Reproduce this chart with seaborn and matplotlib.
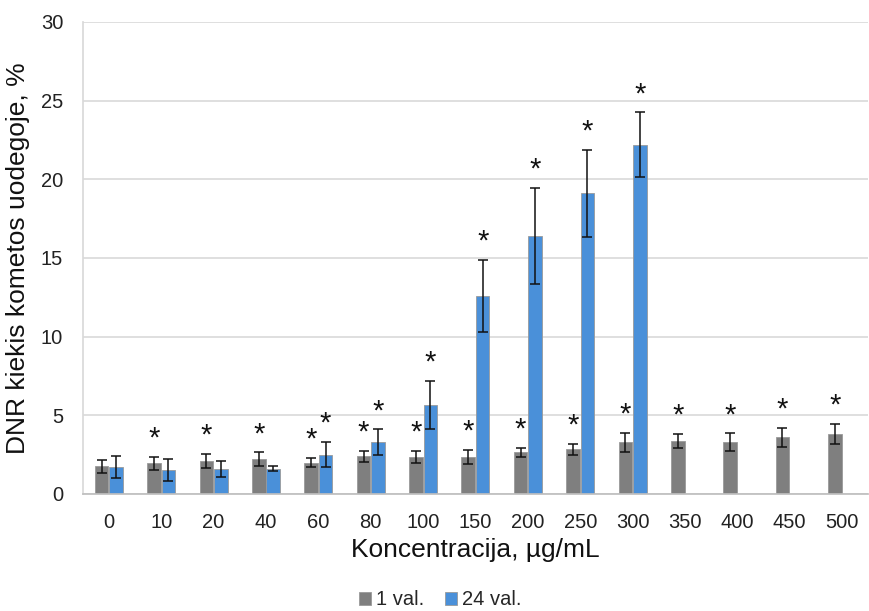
import numpy as np
import pandas as pd
import seaborn as sns
import matplotlib.pyplot as plt

concentrations = ["0", "10", "20", "40", "60", "80", "100", "150", "200", "250",
                  "300", "350", "400", "450", "500"]
series_names = ["1 val.", "24 val."]

mean_1h = [1.75, 1.95, 2.1, 2.2, 2.0, 2.4, 2.35, 2.35, 2.65, 2.85, 3.3, 3.35, 3.3, 3.6, 3.8]
err_1h = [0.4, 0.4, 0.45, 0.45, 0.3, 0.35, 0.4, 0.45, 0.3, 0.35, 0.6, 0.45, 0.55, 0.6, 0.65]
sig_1h = [False, True, True, True, True, True, True, True, True, True, True, True, True, True, True]

mean_24h = [1.7, 1.5, 1.6, 1.6, 2.5, 3.3, 5.65, 12.6, 16.4, 19.1, 22.2]
err_24h = [0.7, 0.7, 0.5, 0.15, 0.8, 0.8, 1.55, 2.3, 3.05, 2.75, 2.05]
sig_24h = [False, False, False, False, True, True, True, True, True, True, True]

rows = []
for i, c in enumerate(concentrations):
    rows.append((c, series_names[0], mean_1h[i], err_1h[i], sig_1h[i]))
for i in range(len(mean_24h)):
    rows.append((concentrations[i], series_names[1], mean_24h[i], err_24h[i], sig_24h[i]))
df = pd.DataFrame(rows, columns=["conc", "series", "value", "err", "sig"])

sns.set_theme(style="white")
plt.rcParams['font.family'] = ['Liberation Sans', 'DejaVu Sans']

fig = plt.figure(figsize=(8.7, 6.11), dpi=100)
ax = fig.add_axes([0.095, 0.1915, 0.903, 0.7725])

palette = {"1 val.": "#7f7f7f", "24 val.": "#4a90d9"}
sns.barplot(data=df, x="conc", y="value", hue="series", order=concentrations,
            hue_order=series_names, palette=palette, errorbar=None,
            width=0.55, gap=0.06, edgecolor="#9a9a9a", linewidth=0.6,
            saturation=1, ax=ax)

# error bars and significance stars on each bar
for cont, name in zip(ax.containers, series_names):
    sub = df[df["series"] == name].set_index("conc")
    for patch in cont.patches:
        h = patch.get_height()
        if np.isnan(h):
            continue
        xc = patch.get_x() + patch.get_width() / 2
        conc = concentrations[int(round(xc))]
        e = sub.loc[conc, "err"]
        ax.errorbar(xc, h, yerr=e, fmt="none", ecolor="#111111",
                    elinewidth=1.1, capsize=3.5, capthick=1.1, zorder=5)
        if sub.loc[conc, "sig"]:
            ax.annotate("*", xy=(xc, h + e), xytext=(0, 3),
                        textcoords="offset points", ha="center", va="bottom",
                        fontsize=21, color="#111111")

ax.set_ylim(0, 30)
ax.set_yticks([0, 5, 10, 15, 20, 25, 30])
ax.set_xlim(-0.5, len(concentrations) - 0.5)
ax.yaxis.grid(True, color="#d9d9d9", linewidth=1.2)
ax.set_axisbelow(True)
for s in ["top", "right"]:
    ax.spines[s].set_visible(False)
ax.spines["left"].set_color("#d9d9d9")
ax.spines["bottom"].set_color("#bfbfbf")
ax.tick_params(axis="both", length=0, labelsize=14.5, colors="#222222")
ax.tick_params(axis="x", pad=14)
ax.tick_params(axis="y", pad=14)
ax.set_xlabel("Koncentracija, µg/mL", fontsize=19, color="#111111", labelpad=4)
ax.set_ylabel("DNR kiekis kometos uodegoje, %", fontsize=19, color="#111111", labelpad=8)

handles, labels = ax.get_legend_handles_labels()
ax.legend(handles, labels, loc="center", bbox_to_anchor=(0.455, -0.224),
          ncol=2, frameon=False, fontsize=14.5, handlelength=0.6, handleheight=0.6,
          handletextpad=0.25, columnspacing=1.0, borderpad=0.1)

fig.savefig("out.png", dpi=100)
